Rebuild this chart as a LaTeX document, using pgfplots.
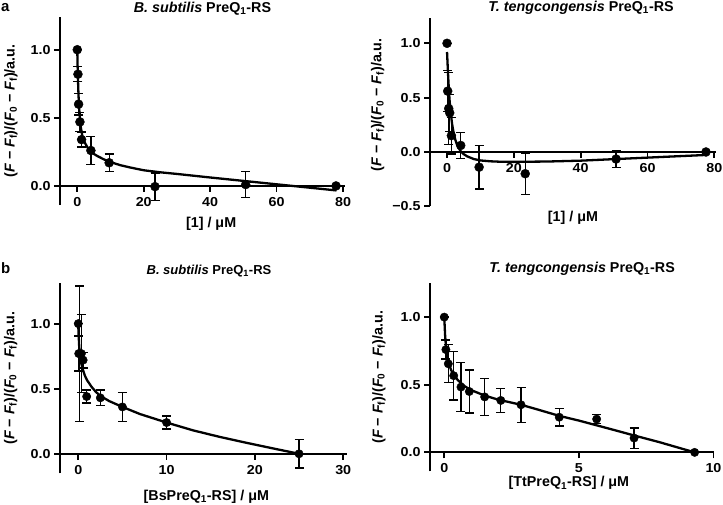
\documentclass[border=0pt]{standalone}
\usepackage{fontspec}
\setmainfont{Liberation Sans}
\newfontfamily\tickfont[FakeStretch=1.1]{Liberation Sans}
\usepackage{pgfplots}
\pgfplotsset{compat=1.18}
\usepackage{pgfplotstable}

\pgfplotstableread{
x y e
0 1.00 0
0.2 0.82 0.055
0.4 0.60 0.08
0.8 0.47 0.07
1.3 0.34 0.055
4.1 0.26 0.105
9.6 0.17 0.065
23.4 -0.005 0.10
50.7 0.01 0.095
77.9 0.0 0
}\dataAL
\pgfplotstableread{
x y e
0 1.00 0
0.2 0.56 0.19
0.5 0.40 0.33
0.8 0.36 0.17
1.3 0.15 0.17
4.1 0.06 0.12
9.6 -0.14 0.20
23.4 -0.20 0.19
50.6 -0.065 0.08
77.5 0.0 0
}\dataAR
\pgfplotstableread{
x y e
0 1.00 0
0.05 0.77 0.135
0.15 0.77 0.52
0.35 0.77 0.30
0.55 0.72 0.06
0.95 0.44 0.05
2.5 0.43 0.06
5.0 0.36 0.11
10.0 0.24 0.05
25.0 0.0 0.11
}\dataBL
\pgfplotstableread{
x y e
0 1.00 0
0.06 0.76 0.07
0.15 0.655 0.14
0.35 0.567 0.18
0.62 0.483 0.18
0.93 0.45 0.16
1.5 0.41 0.135
2.1 0.384 0.09
2.85 0.352 0.13
4.27 0.26 0.065
5.66 0.246 0.035
7.05 0.106 0.075
9.3 0.0 0
}\dataBR

\pgfplotsset{
  myax/.style={
    scale only axis,
    anchor=north west,
    axis x line*=middle,
    axis y line*=left,
    hide obscured x ticks=false,
    hide obscured y ticks=false,
    axis line style={line width=2.2bp, black},
    tick style={line width=1.8bp, black},
    tick align=outside,
    major tick length=6bp,
    clip=false,
    ticklabel style={font=\tickfont\bfseries\fontsize{13bp}{15bp}\selectfont},
    xticklabel style={yshift=-2bp},
    label style={font=\bfseries\fontsize{14.3bp}{16bp}\selectfont, inner sep=0pt},
    title style={font=\bfseries\fontsize{14.3bp}{16bp}\selectfont, inner sep=0pt, anchor=base, at={(axis description cs:0.5,1)}},
    ylabel={({\itshape F} − {\itshape F}\textsubscript{f})/({\itshape F}\textsubscript{0} − {\itshape F}\textsubscript{f})/a.u.},
    ytick={0,0.5,1}, yticklabels={0.0,0.5,1.0},
  },
  pts/.style={only marks, mark=*, mark size=#1, black,
    error bars/.cd, y dir=both, y explicit,
    error bar style={line width=1.3bp, black},
    error mark options={line width=1.3bp, black, mark size=4.5bp, rotate=90}},
  pts/.default=4.5bp,
  fit/.style={black, line width=2.3bp, line join=round, no marks},
}

\begin{document}
\begin{tikzpicture}
\useasboundingbox (0,0) rectangle (723bp,-505bp);
\node[anchor=north west, inner sep=0pt, font=\bfseries\fontsize{15bp}{17bp}\selectfont] at (1bp,-3bp) {a};
\node[anchor=north west, inner sep=0pt, font=\bfseries\fontsize{15bp}{17bp}\selectfont] at (1bp,-262bp) {b};

% a left
\begin{axis}[myax, at={(60bp,-17bp)}, width=285bp, height=188bp,
  xmin=-5.2, xmax=80.6, ymin=-0.14, ymax=1.24,
  xtick={0,20,40,60,80}, xticklabels={0,20,40,60,80},
  title={{\itshape B. subtilis} PreQ\textsubscript{1}-RS},
  title style={yshift=-1.3bp},
  xlabel={[1] / μM},
  xlabel style={at={(axis cs:40.3,-0.14)}, anchor=north, yshift=-11.7bp},
  ylabel style={at={(axis description cs:-0.172,0.5)}, anchor=center},
]
\addplot[fit] coordinates {(0,1.0) (0.1,0.88) (0.2,0.79) (0.35,0.68) (0.5,0.6) (0.75,0.5) (1,0.44) (1.5,0.37) (2,0.33) (3,0.285) (4,0.255) (5,0.235) (6,0.22) (8,0.195) (10,0.175) (13,0.152) (16,0.135) (20,0.115) (25,0.1) (30,0.088) (40,0.062) (50,0.037) (60,0.012) (70,-0.013) (78,-0.033)};
\addplot[pts] table[x=x, y=y, y error=e] {\dataAL};
\end{axis}

% a right
\begin{axis}[myax, at={(430bp,-18.3bp)}, width=286bp, height=188bp,
  xmin=-5.1, xmax=80.5, ymin=-0.5, ymax=1.23,
  xtick={0,20,40,60,80}, xticklabels={0,20,40,60,80},
  ytick={-0.5,0,0.5,1}, yticklabels={−0.5,0.0,0.5,1.0},
  title={{\itshape T. tengcongensis} PreQ\textsubscript{1}-RS},
  title style={yshift=0.8bp, xshift=8bp},
  xlabel={[1] / μM},
  xlabel style={at={(axis cs:37.7,-0.5)}, anchor=north, yshift=-5bp},
  ylabel style={at={(axis description cs:-0.183,0.54)}, anchor=center},
]
\addplot[fit] coordinates {(0,0.92) (0.25,0.75) (0.5,0.6) (0.75,0.48) (1,0.39) (1.5,0.26) (2,0.17) (2.5,0.11) (3,0.065) (4,0.01) (5,-0.02) (6,-0.04) (8,-0.065) (10,-0.078) (13,-0.086) (16,-0.09) (20,-0.091) (30,-0.088) (40,-0.08) (50,-0.066) (60,-0.052) (70,-0.038) (78,-0.027)};
\addplot[pts] table[x=x, y=y, y error=e] {\dataAR};
\end{axis}

% b left
\begin{axis}[myax, at={(60bp,-283.3bp)}, width=287bp, height=190bp,
  xmin=-2.07, xmax=30.43, ymin=-0.15, ymax=1.31,
  xtick={0,10,20,30}, xticklabels={0,10,20,30},
  title={{\itshape B. subtilis} PreQ\textsubscript{1}-RS},
  title style={yshift=2.8bp, xshift=5.5bp, font=\bfseries\fontsize{13bp}{15bp}\selectfont},
  xlabel={[BsPreQ\textsubscript{1}-RS] / μM},
  xlabel style={at={(axis cs:14.5,-0.15)}, anchor=north, yshift=-16.7bp},
  ylabel style={at={(axis description cs:-0.172,0.5)}, anchor=center},
]
\addplot[fit] coordinates {(0,0.98) (0.05,0.9) (0.1,0.83) (0.2,0.75) (0.35,0.69) (0.5,0.65) (0.75,0.6) (1,0.565) (1.5,0.515) (2,0.475) (2.5,0.445) (3.5,0.405) (5,0.36) (7,0.305) (10,0.24) (13,0.18) (16,0.13) (19,0.085) (22,0.042) (25,0.0)};
\addplot[pts=4.2bp] table[x=x, y=y, y error=e] {\dataBL};
\end{axis}

% b right
\begin{axis}[myax, at={(430bp,-283.3bp)}, width=284.3bp, height=188bp,
  xmin=-0.53, xmax=10.03, ymin=-0.14, ymax=1.25,
  xtick={0,5,10}, xticklabels={0,5,10},
  title={{\itshape T. tengcongensis} PreQ\textsubscript{1}-RS},
  title style={yshift=5.3bp, xshift=10bp},
  xlabel={[TtPreQ\textsubscript{1}-RS] / μM},
  xlabel style={at={(axis cs:4.63,-0.14)}, anchor=north, yshift=-5bp},
  ylabel style={at={(axis description cs:-0.18,0.5)}, anchor=center},
]
\addplot[fit] coordinates {(0,1.0) (0.03,0.87) (0.06,0.79) (0.1,0.72) (0.15,0.67) (0.25,0.61) (0.35,0.575) (0.5,0.535) (0.75,0.49) (1,0.46) (1.5,0.42) (2,0.39) (2.85,0.352) (3.5,0.315) (4.27,0.27) (5,0.235) (5.66,0.2) (6.5,0.155) (7.05,0.125) (8,0.075) (9.3,0.0)};
\addplot[pts=4.2bp] table[x=x, y=y, y error=e] {\dataBR};
\end{axis}
\end{tikzpicture}
\end{document}
